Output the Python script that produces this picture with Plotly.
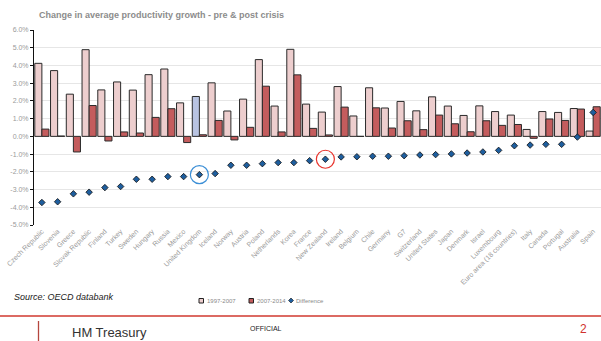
import plotly.graph_objects as go

countries = [
    "Czech Republic", "Slovenia", "Greece", "Slovak Republic", "Finland", "Turkey",
    "Sweden", "Hungary", "Russia", "Mexico", "United Kingdom", "Iceland", "Norway",
    "Austria", "Poland", "Netherlands", "Korea", "France", "New Zealand", "Ireland",
    "Belgium", "Chile", "Germany", "G7", "Switzerland", "United States", "Japan",
    "Denmark", "Israel", "Luxembourg", "Euro area (18 countries)", "Italy", "Canada",
    "Portugal", "Australia", "Spain",
]

# Average annual productivity growth, %
growth_1997_2007 = [
    4.12, 3.71, 2.38, 4.89, 2.62, 3.07, 2.61, 3.48, 3.80, 1.89, 2.25, 3.02, 1.43,
    2.10, 4.33, 1.71, 4.91, 1.82, 1.37, 2.81, 1.15, 2.74, 1.60, 1.97, 1.44, 2.23,
    1.71, 1.18, 1.72, 1.40, 1.20, 0.39, 1.40, 1.35, 1.57, 0.30,
]
growth_2007_2014 = [
    0.41, 0.02, -0.88, 1.74, -0.26, 0.25, 0.19, 1.07, 1.56, -0.35, 0.09, 0.90, -0.20,
    0.51, 2.83, 0.25, 3.47, 0.45, 0.08, 1.65, 0.00, 1.61, 0.47, 0.88, 0.38, 1.20,
    0.71, 0.26, 0.88, 0.62, 0.67, -0.11, 0.98, 0.90, 1.54, 1.67,
]
difference = [
    -3.73, -3.69, -3.24, -3.15, -2.89, -2.83, -2.42, -2.42, -2.27, -2.27, -2.16, -2.10,
    -1.63, -1.63, -1.54, -1.48, -1.48, -1.37, -1.29, -1.16, -1.15, -1.12, -1.12, -1.09,
    -1.05, -1.03, -0.99, -0.94, -0.88, -0.79, -0.53, -0.49, -0.45, -0.45, -0.04, 1.35,
]

y_ticks = [-5, -4, -3, -2, -1, 0, 1, 2, 3, 4, 5, 6]
y_tick_labels = [f"{v:.1f}%" for v in y_ticks]
highlight_blue = "United Kingdom"
highlight_red = "New Zealand"

PRE = "#EDCECE"
PRE_UK = "#B8C3E1"
POST = "#C45C5D"
DIAMOND = "#1E5E9E"
OUTLINE = "#2A2A2A"
FONT = "Liberation Sans, Arial, Helvetica, sans-serif"

W, H = 601, 341
L, T, PW, PH = 34, 30, 567, 195


def xp(px):
    return (px - L) / PW


def yp(py):
    return (T + PH - py) / PH


pre_colors = [PRE_UK if c == highlight_blue else PRE for c in countries]

fig = go.Figure()
fig.add_trace(go.Bar(
    x=countries, y=growth_1997_2007, name="1997-2007",
    marker=dict(color=pre_colors, line=dict(color=OUTLINE, width=1)),
))
fig.add_trace(go.Bar(
    x=countries, y=growth_2007_2014, name="2007-2014",
    marker=dict(color=POST, line=dict(color=OUTLINE, width=1)),
))
fig.add_trace(go.Scatter(
    x=countries, y=difference, name="Difference", mode="markers",
    marker=dict(symbol="diamond", size=5, color=DIAMOND,
                line=dict(color="#111111", width=0.8)),
    cliponaxis=False,
))

# circles highlighting two countries' differences
for name, col in [(highlight_blue, "#3C8FD6"), (highlight_red, "#E8322B")]:
    i = countries.index(name)
    fig.add_shape(type="circle", xref="x", yref="y", xsizemode="pixel",
                  ysizemode="pixel", xanchor=i, yanchor=difference[i],
                  x0=-9, x1=9, y0=-9, y1=9, line=dict(color=col, width=1.2))

annotations = [
    dict(text="<b>Change in average productivity growth - pre & post crisis</b>",
         x=xp(37), y=yp(15), xanchor="left", yanchor="middle",
         font=dict(size=9, color="#8C8C8C")),
    dict(text="<i>Source: OECD databank</i>", x=xp(12), y=yp(297),
         xanchor="left", yanchor="middle", font=dict(size=9, color="#1A1A1A")),
    dict(text="1997-2007", x=xp(204.5), y=yp(300.5), xanchor="left", yanchor="middle",
         font=dict(size=6, color="#8A8A8A")),
    dict(text="2007-2014", x=xp(254.5), y=yp(300.5), xanchor="left", yanchor="middle",
         font=dict(size=6, color="#8A8A8A")),
    dict(text="Difference", x=xp(294), y=yp(300.5), xanchor="left", yanchor="middle",
         font=dict(size=6, color="#8A8A8A")),
    dict(text="HM Treasury", x=xp(70), y=yp(332), xanchor="left", yanchor="middle",
         font=dict(size=13, color="#333333")),
    dict(text="OFFICIAL", x=xp(266), y=yp(328), xanchor="center", yanchor="middle",
         font=dict(size=7, color="#222222")),
    dict(text="2", x=xp(583), y=yp(329), xanchor="center", yanchor="middle",
         font=dict(size=12, color="#D0312D")),
]
for a in annotations:
    a.update(xref="paper", yref="paper", showarrow=False)

shapes = [
    # legend keys
    dict(type="rect", x0=xp(199), x1=xp(203.5), y0=yp(303), y1=yp(298.5),
         fillcolor=PRE, line=dict(color="#222222", width=1)),
    dict(type="rect", x0=xp(249), x1=xp(253.5), y0=yp(303), y1=yp(298.5),
         fillcolor=POST, line=dict(color="#222222", width=1)),
    dict(type="path",
         path=f"M {xp(291)},{yp(298)} L {xp(293.5)},{yp(300.5)} "
              f"L {xp(291)},{yp(303)} L {xp(288.5)},{yp(300.5)} Z",
         fillcolor=DIAMOND, line=dict(color="#111111", width=0.6)),
    # footer rules
    dict(type="line", x0=xp(0), x1=xp(601), y0=yp(316), y1=yp(316),
         line=dict(color="#D0392F", width=1.3)),
    dict(type="line", x0=xp(38.5), x1=xp(38.5), y0=yp(321), y1=yp(341),
         line=dict(color="#B5463E", width=1.3)),
]
for s in shapes:
    s.update(xref="paper", yref="paper")
    fig.add_shape(**s)

fig.update_layout(
    width=W, height=H,
    margin=dict(l=L, r=W - L - PW, t=T, b=H - T - PH, pad=0),
    paper_bgcolor="white", plot_bgcolor="white",
    font=dict(family=FONT),
    barmode="group", bargap=0.1, bargroupgap=0,
    showlegend=False,
    annotations=annotations,
)
fig.update_xaxes(
    range=[-0.5, len(countries) - 0.5], tickangle=-45,
    tickfont=dict(size=7, color="#9A9A9A"), showgrid=False, showline=False,
    ticks="", zeroline=False,
)
fig.update_yaxes(
    range=[-5, 6], tickmode="array", tickvals=y_ticks, ticktext=y_tick_labels,
    tickfont=dict(size=7, color="#9A9A9A"), showgrid=True, gridcolor="#E6E6E6",
    gridwidth=1, zeroline=False, showline=True, linecolor="#111111", linewidth=1,
    ticks="outside", ticklen=3, tickcolor="#111111",
)

fig.write_html("out.html")
